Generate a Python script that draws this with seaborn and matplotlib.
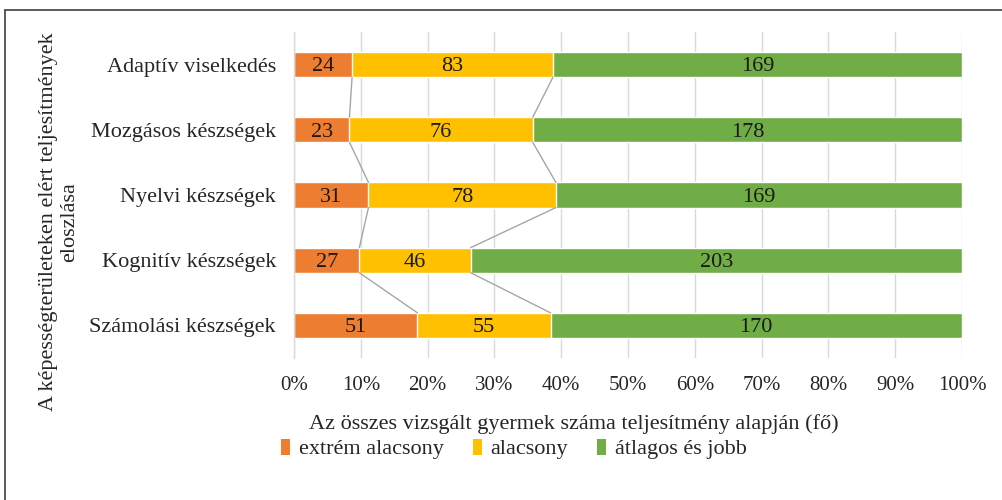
import numpy as np
import pandas as pd
import matplotlib
matplotlib.use("Agg")
import matplotlib.pyplot as plt
import seaborn as sns
from matplotlib.lines import Line2D
from matplotlib.patches import Patch

categories = ["Adaptív viselkedés", "Mozgásos készségek", "Nyelvi készségek",
              "Kognitív készségek", "Számolási készségek"]
series_names = ["extrém alacsony", "alacsony", "átlagos és jobb"]
extrem = [24, 23, 31, 27, 51]
alacsony = [83, 76, 78, 46, 55]
atlagos = [169, 178, 169, 203, 170]
xtick_labels = ["0%", "10%", "20%", "30%", "40%", "50%", "60%", "70%", "80%", "90%", "100%"]
colors = ["#ED7D31", "#FFC000", "#70AD47"]

sns.set_theme(style="white")
plt.rcParams["font.family"] = ["Liberation Serif", "DejaVu Serif"]

counts = np.array([extrem, alacsony, atlagos], dtype=float)
totals = counts.sum(axis=0)
pct = counts / totals * 100
cum = np.cumsum(pct, axis=0)

fig = plt.figure(figsize=(10.02, 5.0), dpi=100)
W, H = 1002, 500
ax = fig.add_axes([294 / W, 1 - 358 / H, (962 - 294) / W, (358 - 32) / H])

bar_h = 0.385
# draw cumulative bars largest first so they stack visually
for i in range(2, -1, -1):
    df = pd.DataFrame({"cat": categories, "val": cum[i]})
    sns.barplot(data=df, y="cat", x="val", orient="h", color=colors[i],
                width=bar_h, saturation=1, ax=ax, order=categories)

ax.set_xlim(0, 100)
ax.set_ylim(len(categories) - 0.5, -0.5)
ax.set_xticks(np.arange(0, 101, 10))
ax.set_xticklabels(xtick_labels, fontsize=15)
ax.tick_params(axis="x", length=0, pad=13)
ax.xaxis.grid(True, color="#D9D9D9", linewidth=1)
ax.set_axisbelow(True)
for s in ["top", "right", "bottom"]:
    ax.spines[s].set_visible(False)
ax.spines["left"].set_color("#D9D9D9")
ax.spines["left"].set_linewidth(1)

# category ticks at boundaries
ax.set_yticks(np.arange(len(categories)))
ax.set_yticklabels(categories, fontsize=16)
ax.tick_params(axis="y", length=0, pad=13)
ax.set_yticks(np.arange(-0.5, len(categories), 1), minor=True)
ax.tick_params(axis="y", which="minor", length=6, color="#D9D9D9", width=1, direction="out")

ax.set_ylabel("")
ax.set_xlabel("Az összes vizsgált gyermek száma teljesítmény alapján (fő)", fontsize=16)
ax.xaxis.set_label_coords((574 - 294) / (962 - 294), -(424 - 358) / (358 - 32))
ax.xaxis.label.set_va("center")

# data labels
for j in range(len(categories)):
    left = 0
    for i in range(3):
        ax.text(left + pct[i, j] / 2, j + 0.035, f"{int(counts[i, j])}", ha="center", va="center",
                fontsize=16, color="#1a1a1a")
        left += pct[i, j]

# series lines
for i in range(2):
    for j in range(len(categories) - 1):
        ax.plot([cum[i, j], cum[i, j + 1]], [j + bar_h / 2, j + 1 - bar_h / 2],
                color="#A6A6A6", linewidth=1, zorder=1)

# y label
fig.text(59 / W, 1 - 222 / H, "A képességterületeken elért teljesítmények\neloszlása",
         rotation=90, ha="center", va="center", fontsize=16, linespacing=1.2)

# legend
handles = [Patch(facecolor=c, edgecolor="none") for c in colors]
fig.legend(handles, series_names, loc="center", bbox_to_anchor=(514 / W, 1 - 449 / H),
           ncol=3, frameon=False, fontsize=16, handlelength=0.4, handleheight=0.75,
           handletextpad=0.4, columnspacing=1.3)

# border
fig.add_artist(Line2D([5 / W, 1], [1 - 10 / H, 1 - 10 / H], color="#404040", linewidth=1.2,
                      transform=fig.transFigure))
fig.add_artist(Line2D([5 / W, 5 / W], [0, 1 - 10 / H], color="#404040", linewidth=1.2,
                      transform=fig.transFigure))

fig.savefig("out.png", dpi=100, facecolor="white")
